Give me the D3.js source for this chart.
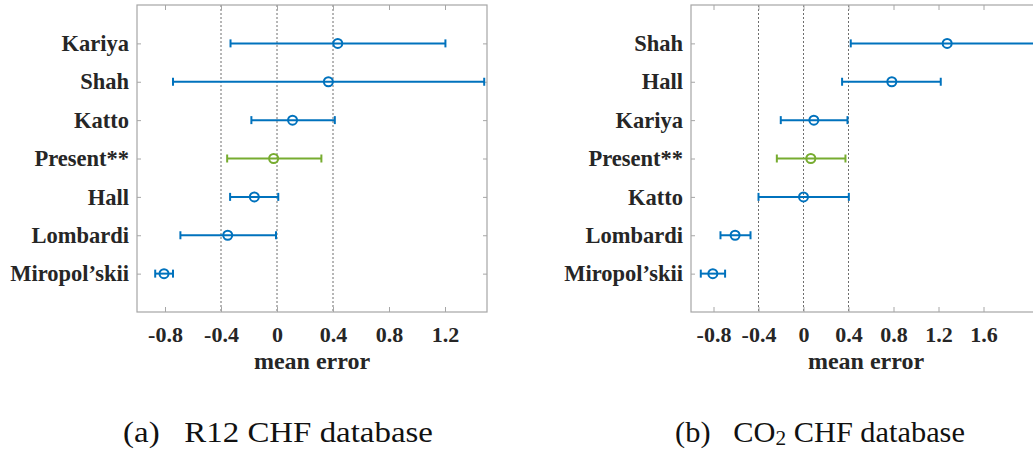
<!DOCTYPE html>
<html>
<head>
<meta charset="utf-8">
<script src="https://cdn.jsdelivr.net/npm/d3@7"></script>
<style>
  html, body { margin: 0; padding: 0; background: #fff; }
  svg { display: block; }
</style>
</head>
<body>
<svg id="chart" width="1033" height="450"></svg>
<script>
// ---- Data: (a) R12 CHF database ----
const leftCategories = ["Kariya", "Shah", "Katto", "Present**", "Hall", "Lombardi", "Miropol\u2019skii"];
const leftMean  = [0.434, 0.367, 0.111, -0.024, -0.162, -0.352, -0.807];
const leftLower = [-0.332, -0.743, -0.183, -0.356, -0.335, -0.690, -0.870];
const leftUpper = [1.203, 1.480, 0.413, 0.317, 0.009, -0.007, -0.743];
const leftTicks = [-0.8, -0.4, 0, 0.4, 0.8, 1.2];

// ---- Data: (b) CO2 CHF database ----
const rightCategories = ["Shah", "Hall", "Kariya", "Present**", "Katto", "Lombardi", "Miropol\u2019skii"];
const rightMean  = [1.277, 0.785, 0.092, 0.065, 0.000, -0.608, -0.806];
const rightLower = [0.420, 0.343, -0.202, -0.237, -0.400, -0.738, -0.913];
const rightUpper = [2.400, 1.220, 0.391, 0.373, 0.403, -0.471, -0.697];
const rightTicks = [-0.8, -0.4, 0, 0.4, 0.8, 1.2, 1.6];

const refLines = [-0.4, 0, 0.4];
const highlight = "Present**";
const xLabel = "mean error";

const FONT = "'Liberation Serif', 'Times New Roman', Times, serif";
const svg = d3.select("#chart");
const blue = "#0072BD", green = "#77AC30", boxColor = "#a6a6a6", ink = "#262626";

function fmt(v) { return v === 0 ? "0" : v.toFixed(1); }

function panel(cats, mean, lower, upper, ticks, xDomain, xRange) {
  const x = d3.scaleLinear().domain(xDomain).range(xRange);
  const y = d3.scaleLinear().domain([0, cats.length + 1]).range([5, 312]);
  const g = svg.append("g");
  const [x0, x1] = xRange;
  const [yTop, yBot] = [y(0), y(cats.length + 1)];

  const clipId = "clip" + Math.round(x0);
  svg.append("clipPath").attr("id", clipId).append("rect")
    .attr("x", x0).attr("y", yTop).attr("width", x1 - x0).attr("height", yBot - yTop);

  g.selectAll(".ref").data(refLines).join("line")
    .attr("x1", d => x(d)).attr("x2", d => x(d))
    .attr("y1", yTop).attr("y2", yBot)
    .attr("stroke", "#6e6e6e").attr("stroke-width", 1).attr("stroke-dasharray", "2,2");

  g.append("rect").attr("x", x0).attr("y", yTop).attr("width", x1 - x0).attr("height", yBot - yTop)
    .attr("fill", "none").attr("stroke", boxColor).attr("stroke-width", 1.2);

  const bottom = d3.axisBottom(x).tickValues(ticks).tickSize(-5).tickPadding(14).tickFormat(fmt);
  const ba = g.append("g").attr("transform", `translate(0,${yBot})`).call(bottom);
  ba.select(".domain").remove();
  ba.selectAll(".tick line").attr("stroke", boxColor);
  ba.selectAll(".tick text").style("font-size", "22px").style("font-weight", "bold")
    .style("font-family", FONT).style("fill", ink);
  const top = d3.axisTop(x).tickValues(ticks).tickSize(-5).tickFormat("");
  const ta = g.append("g").attr("transform", `translate(0,${yTop})`).call(top);
  ta.select(".domain").remove();
  ta.selectAll(".tick line").attr("stroke", boxColor);

  const left = d3.axisLeft(y).tickValues(d3.range(1, cats.length + 1)).tickSize(-4).tickPadding(8)
    .tickFormat(i => cats[i - 1]);
  const la = g.append("g").attr("transform", `translate(${x0},0)`).call(left);
  la.select(".domain").remove();
  la.selectAll(".tick line").attr("stroke", boxColor);
  la.selectAll(".tick text").style("font-size", "22.5px").style("font-weight", "bold")
    .style("font-family", FONT).style("fill", ink).attr("x", -8);
  const right = d3.axisRight(y).tickValues(d3.range(1, cats.length + 1)).tickSize(-4).tickFormat("");
  const ra = g.append("g").attr("transform", `translate(${x1},0)`).call(right);
  ra.select(".domain").remove();
  ra.selectAll(".tick line").attr("stroke", boxColor);

  g.append("text").attr("x", (x0 + x1) / 2).attr("y", 369)
    .attr("text-anchor", "middle").style("font-size", "24px").style("font-weight", "bold")
    .style("font-family", FONT).style("fill", ink).text(xLabel);

  const data = cats.map((c, i) => ({ c, i, m: mean[i], lo: lower[i], hi: upper[i] }));
  const eb = g.append("g").attr("clip-path", `url(#${clipId})`);
  const col = d => d.c === highlight ? green : blue;
  eb.selectAll(".bar").data(data).join("line")
    .attr("x1", d => x(d.lo)).attr("x2", d => x(d.hi))
    .attr("y1", d => y(d.i + 1)).attr("y2", d => y(d.i + 1))
    .attr("stroke", col).attr("stroke-width", 2);
  eb.selectAll(".capL").data(data).join("line")
    .attr("x1", d => x(d.lo)).attr("x2", d => x(d.lo))
    .attr("y1", d => y(d.i + 1) - 4).attr("y2", d => y(d.i + 1) + 4)
    .attr("stroke", col).attr("stroke-width", 2);
  eb.selectAll(".capR").data(data).join("line")
    .attr("x1", d => x(d.hi)).attr("x2", d => x(d.hi))
    .attr("y1", d => y(d.i + 1) - 4).attr("y2", d => y(d.i + 1) + 4)
    .attr("stroke", col).attr("stroke-width", 2);
  eb.selectAll(".pt").data(data).join("circle")
    .attr("cx", d => x(d.m)).attr("cy", d => y(d.i + 1)).attr("r", 4.5)
    .attr("fill", "none").attr("stroke", col).attr("stroke-width", 2);
  return x;
}

panel(leftCategories, leftMean, leftLower, leftUpper, leftTicks, [-1, 1.5], [137, 487]);
const pxPerUnit = 112.5;
panel(rightCategories, rightMean, rightLower, rightUpper, rightTicks, [-1, 350 / pxPerUnit - 1], [691, 1041]);

function caption(xc, width, parts) {
  const gg = svg.append("g");
  const t = gg.append("text").attr("x", 0).attr("y", 0).attr("text-anchor", "middle")
    .style("font-size", "28.5px").style("font-family", FONT).style("fill", "#111");
  parts.forEach(p => {
    const s = t.append("tspan").text(p.t);
    if (p.sub) s.style("font-size", "20px").attr("dy", 3);
    else if (p.after) s.attr("dy", -3);
  });
  const w = t.node().getComputedTextLength();
  gg.attr("transform", `translate(${xc},442) scale(${width / w},1)`);
}
caption(278, 310, [{ t: "(a)\u00a0\u00a0 R12 CHF database" }]);
caption(820, 290, [{ t: "(b)\u00a0\u00a0 CO" }, { t: "2", sub: true }, { t: " CHF database", after: true }]);
</script>
</body>
</html>
